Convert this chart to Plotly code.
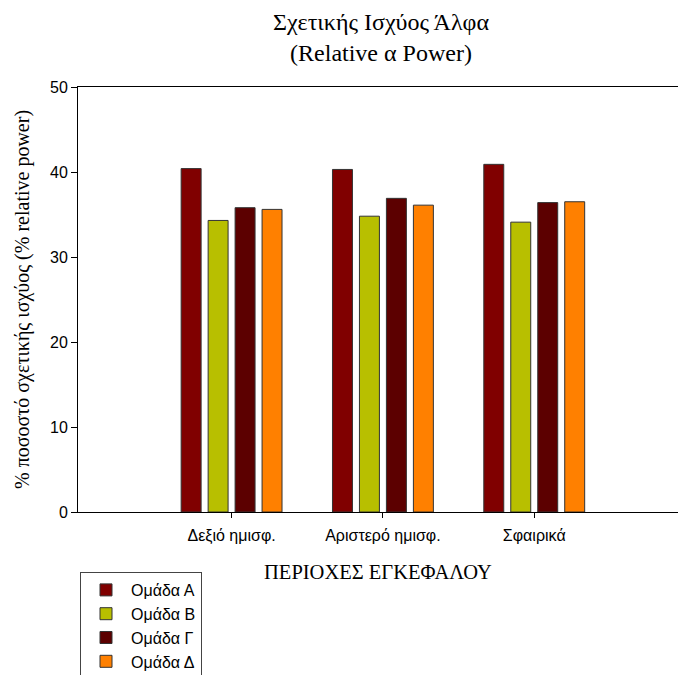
import plotly.graph_objects as go

categories = ["Δεξιό ημισφ.", "Αριστερό ημισφ.", "Σφαιρικά"]
groups = ["Ομάδα Α", "Ομάδα Β", "Ομάδα Γ", "Ομάδα Δ"]
group_a = [40.4, 40.3, 40.9]
group_b = [34.3, 34.8, 34.1]
group_g = [35.8, 36.9, 36.4]
group_d = [35.6, 36.1, 36.5]
y_ticks = [0, 10, 20, 30, 40, 50]

series = [group_a, group_b, group_g, group_d]
colors = ["#800000", "#b8bf00", "#5c0000", "#ff8000"]

fig = go.Figure()
for name, vals, col in zip(groups, series, colors):
    fig.add_trace(go.Bar(
        x=categories, y=vals, name=name,
        marker=dict(color=col, line=dict(color="#333333", width=1)),
    ))

fig.update_layout(
    width=678, height=675,
    margin=dict(l=78, r=0, t=87, b=163, autoexpand=False),
    paper_bgcolor="white", plot_bgcolor="white",
    barmode="group", bargap=0.287, bargroupgap=0.26,
    font=dict(family="Liberation Sans, Arial", size=16, color="black"),
    title=dict(
        text="Σχετικής Ισχύος Άλφα<br>(Relative α Power)",
        x=(381 - 78) / 600, xref="paper", xanchor="center",
        y=1 - 30 / 675, yanchor="middle",
        font=dict(family="Liberation Serif, Times New Roman", size=24),
    ),
    xaxis=dict(
        range=[-1.015, 2.95], showline=True, linecolor="black", linewidth=1,
        mirror=True, ticks="outside", ticklen=5, tickcolor="black",
        showgrid=False, zeroline=False, ticklabelstandoff=4,
        tickfont=dict(family="Liberation Sans, Arial", size=16),
        title=dict(text="ΠΕΡΙΟΧΕΣ ΕΓΚΕΦΑΛΟΥ", standoff=20,
                   font=dict(family="Liberation Serif, Times New Roman", size=20.5)),
    ),
    yaxis=dict(
        range=[0, 50], tickvals=y_ticks, showline=True, linecolor="black",
        linewidth=1, ticks="outside", ticklen=6, tickcolor="black",
        showgrid=False, zeroline=False,
        tickfont=dict(family="Liberation Sans, Arial", size=16),
        title=dict(text="% ποσοστό σχετικής ισχύος (% relative power)", standoff=15,
                   font=dict(family="Liberation Serif, Times New Roman", size=20)),
    ),
    legend=dict(
        x=(80 - 78) / 600, y=(512 - 572) / 425, xanchor="left", yanchor="top",
        bordercolor="#444444", borderwidth=1, bgcolor="white",
        font=dict(family="Liberation Sans, Arial", size=16),
        tracegroupgap=0, itemwidth=40,
    ),
)

fig.write_html(
    "out.html",
    config={"displayModeBar": False},
    post_script="document.body.style.margin='0';document.body.style.overflow='hidden';",
)
